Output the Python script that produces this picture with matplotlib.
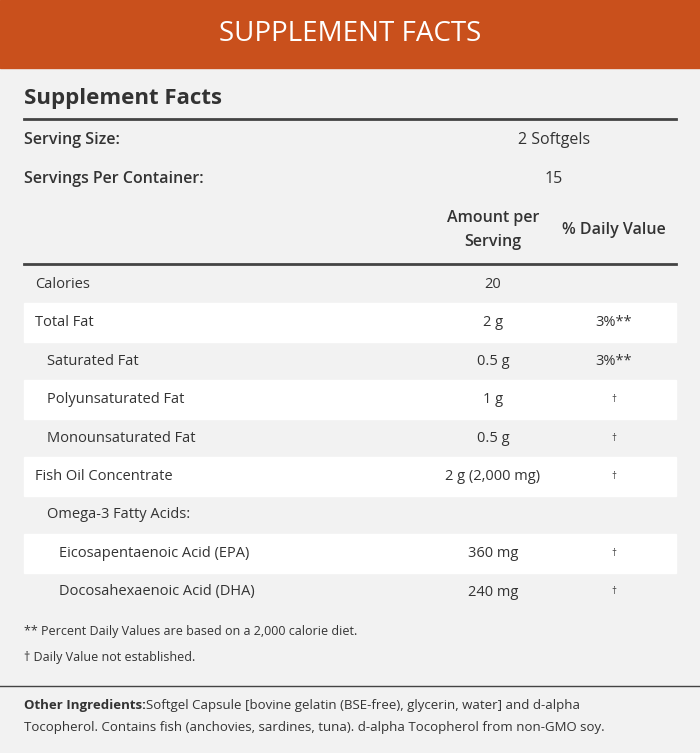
import matplotlib.pyplot as plt
from matplotlib.patches import Rectangle

plt.rcParams['font.family'] = ['Open Sans', 'DejaVu Sans']

# data
nutrients = ['Calories', 'Total Fat', 'Saturated Fat', 'Polyunsaturated Fat',
             'Monounsaturated Fat', 'Fish Oil Concentrate', 'Omega-3 Fatty Acids:',
             'Eicosapentaenoic Acid (EPA)', 'Docosahexaenoic Acid (DHA)']
indent = [0, 0, 1, 1, 1, 0, 1, 2, 2]
amounts = ['20', '2 g', '0.5 g', '1 g', '0.5 g', '2 g (2,000 mg)', '', '360 mg', '240 mg']
daily = ['', '3%**', '3%**', '†', '†', '†', '', '†', '†']
serving_size = '2 Softgels'
servings_per_container = '15'

fig = plt.figure(figsize=(7, 7.53), dpi=100)
fig.patch.set_facecolor('#f2f2f2')
ax = fig.add_axes([0, 0, 1, 1])
ax.set_xlim(0, 700)
ax.set_ylim(753, 0)
ax.axis('off')

# header bar
ax.add_patch(Rectangle((0, 0), 700, 68, color='#c9501c'))
ax.text(350, 34, 'SUPPLEMENT FACTS', color='white', fontsize=20, ha='center', va='center')

dark = '#333333'
ax.text(24, 98, 'Supplement Facts', fontsize=16, weight='bold', color=dark, va='center')
ax.plot([24, 676], [119, 119], color='#444444', lw=2)
ax.text(24, 140, 'Serving Size:', fontsize=11.5, weight='semibold', color=dark, va='center')
ax.text(554, 140, serving_size, fontsize=11.5, color=dark, va='center', ha='center')
ax.text(24, 179, 'Servings Per Container:', fontsize=11.5, weight='semibold', color=dark, va='center')
ax.text(554, 179, servings_per_container, fontsize=11.5, color=dark, va='center', ha='center')
ax.text(493, 230, 'Amount per\nServing', fontsize=11.5, weight='semibold', color=dark,
        va='center', ha='center', linespacing=1.6)
ax.text(614, 230, '% Daily Value', fontsize=11.5, weight='semibold', color=dark, va='center', ha='center')
ax.plot([24, 676], [264, 264], color='#444444', lw=2)

row_h = 38.5
for i, name in enumerate(nutrients):
    y = 284 + i * row_h
    if i % 2 == 1:
        ax.add_patch(Rectangle((24, y - row_h / 2), 652, row_h, color='white'))
    ax.text(35 + 12 * indent[i], y, name, fontsize=10.5, color=dark, va='center')
    ax.text(493, y, amounts[i], fontsize=10.5, color=dark, va='center', ha='center')
    fs = 7 if daily[i] == '†' else 10.5
    ax.text(614, y, daily[i], fontsize=fs, color=dark, va='center', ha='center')

ax.text(24, 631, '** Percent Daily Values are based on a 2,000 calorie diet.', fontsize=9, color=dark, va='center')
ax.text(24, 657, '† Daily Value not established.', fontsize=9, color=dark, va='center')
ax.plot([0, 700], [686, 686], color='#444444', lw=1)
ax.text(24, 706, 'Other Ingredients:', fontsize=9.5, weight='bold', color=dark, va='center')
ax.text(146, 706, 'Softgel Capsule [bovine gelatin (BSE-free), glycerin, water] and d-alpha',
        fontsize=9.5, color=dark, va='center')
ax.text(24, 727, 'Tocopherol. Contains fish (anchovies, sardines, tuna). d-alpha Tocopherol from non-GMO soy.',
        fontsize=9.5, color=dark, va='center')

fig.savefig('out.png', dpi=100, facecolor=fig.get_facecolor())
